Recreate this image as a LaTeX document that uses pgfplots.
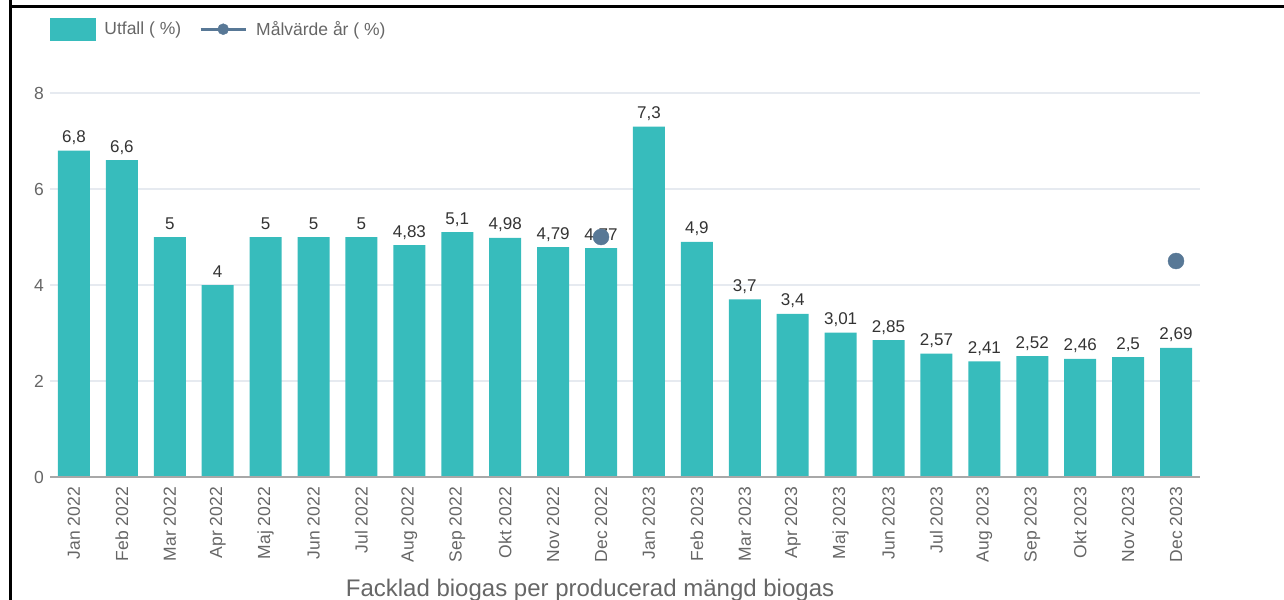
\documentclass[border=0pt]{standalone}
\usepackage{fontspec}
\setmainfont{Liberation Sans}
\usepackage{pgfplots}
\pgfplotsset{compat=1.18}

\definecolor{barc}{HTML}{37BCBC}
\definecolor{goal}{HTML}{587896}
\definecolor{ticktxt}{HTML}{666666}
\definecolor{valtxt}{HTML}{333333}
\definecolor{gridc}{HTML}{E6EAF0}
\definecolor{axisc}{HTML}{A8A8A8}

\begin{document}
\begin{tikzpicture}
\path[use as bounding box] (-50bp,-123bp) rectangle (1234bp,477bp);
\begin{axis}[
	at={(0,0)}, anchor=south west,
	width=1150bp, height=384bp, scale only axis,
	xmin=-0.5, xmax=23.5, ymin=0, ymax=8,
	clip=false,
	axis line style={draw=none},
	major tick length=0pt,
	ytick={0,2,4,6,8},
	ymajorgrids, grid style={gridc, line width=1.2bp},
	xtick={0,...,23},
	xticklabels={Jan 2022,Feb 2022,Mar 2022,Apr 2022,Maj 2022,Jun 2022,Jul 2022,Aug 2022,Sep 2022,Okt 2022,Nov 2022,Dec 2022,
		Jan 2023,Feb 2023,Mar 2023,Apr 2023,Maj 2023,Jun 2023,Jul 2023,Aug 2023,Sep 2023,Okt 2023,Nov 2023,Dec 2023},
	/pgf/number format/assume math mode=true,
	xticklabel style={rotate=90, anchor=east, inner sep=0pt, font=\fontsize{17.5bp}{20bp}\selectfont, text=ticktxt},
	yticklabel style={inner sep=0pt, font=\fontsize{17.5bp}{20bp}\selectfont, text=ticktxt},
	xticklabel shift=10bp,
	yticklabel shift=6bp,
	xlabel={Facklad biogas per producerad mängd biogas},
	xlabel style={at={(axis description cs:0.4696,-0.3099)}, anchor=base, inner sep=0pt,
		font=\fontsize{24bp}{27bp}\selectfont, text=ticktxt},
	legend style={at={(0,1.1953)}, anchor=north west, draw=none, fill=none,
		inner sep=0pt, outer sep=0pt, legend columns=2,
		font=\fontsize{17.5bp}{20bp}\selectfont, text=ticktxt,
		nodes={inner sep=0pt},
		/tikz/every odd column/.append style={column sep=9bp},
		/tikz/every even column/.append style={column sep=18bp}},
	legend cell align=left,
]
\addlegendimage{legend image code/.code={\fill[barc] (0bp,-11bp) rectangle (45bp,11bp);}}
\addlegendentry{Utfall ( \%)}
\addlegendimage{legend image code/.code={\draw[goal, line width=3bp] (0bp,0bp) -- (45bp,0bp); \fill[goal] (22.5bp,0bp) circle (5.5bp);}}
\addlegendentry{Målvärde år ( \%)}

\addplot[ybar, bar width=32bp, fill=barc, draw=none, forget plot,
	nodes near coords={\pgfmathprintnumber[use comma, precision=2, assume math mode=true]{\pgfplotspointmeta}},
	nodes near coords style={anchor=base, inner sep=0pt, yshift=8bp, font=\fontsize{17bp}{19bp}\selectfont, text=valtxt}]
coordinates {
	(0,6.8) (1,6.6) (2,5) (3,4) (4,5) (5,5) (6,5) (7,4.83) (8,5.1) (9,4.98) (10,4.79) (11,4.77)
	(12,7.3) (13,4.9) (14,3.7) (15,3.4) (16,3.01) (17,2.85) (18,2.57) (19,2.41) (20,2.52) (21,2.46) (22,2.5) (23,2.69)
};
\draw[axisc, line width=1.5bp] (axis cs:-0.5,0) -- (axis cs:23.5,0);
\addplot[only marks, mark=*, mark size=8bp, goal, forget plot] coordinates {(11,5) (23,4.5)};
\end{axis}
\draw[black, line width=3bp] (-39.5bp,477bp) -- (-39.5bp,-123bp);
\draw[black, line width=3bp] (-39.5bp,470.5bp) -- (1234bp,470.5bp);
\end{tikzpicture}
\end{document}
